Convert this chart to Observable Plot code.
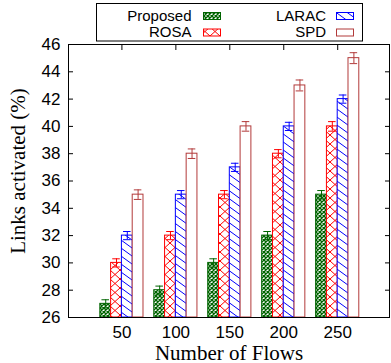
<!DOCTYPE html>
<html><head><meta charset="utf-8">
<script src="https://cdn.jsdelivr.net/npm/d3@7"></script>
<script src="https://cdn.jsdelivr.net/npm/@observablehq/plot@0.6"></script>
<style>
body{margin:0;background:#fff;}
#wrap{position:relative;width:391px;height:363px;overflow:hidden;}
#legend{position:absolute;left:0;top:0;}
</style></head><body><div id="wrap"></div>
<script>
// ---- data ----
const flows = ["50", "100", "150", "200", "250"];
const seriesNames = ["Proposed", "ROSA", "LARAC", "SPD"];
const proposed = [27, 28, 30, 32, 35];
const rosa = [30, 32, 35, 38, 40];
const larac = [32, 35, 37, 40, 42];
const spd = [35, 38, 40, 43, 45];
const errProposed = [0.3, 0.3, 0.3, 0.3, 0.3];
const errRosa = [0.3, 0.3, 0.3, 0.3, 0.35];
const errLarac = [0.3, 0.3, 0.3, 0.3, 0.3];
const errSpd = [0.35, 0.35, 0.35, 0.4, 0.4];
const yTicks = [26, 28, 30, 32, 34, 36, 38, 40, 42, 44, 46];

// ---- styles ----
const colors = ["#006400", "#ff0000", "#0000ff", "#b23a3a"];
const fills = ["url(#pGreen)", "url(#pRed)", "url(#pBlue)", "#ffffff"];
const values = [proposed, rosa, larac, spd];
const errs = [errProposed, errRosa, errLarac, errSpd];
const barW = 0.2;

const wrap = document.getElementById("wrap");

// pattern defs + legend
const NS = "http://www.w3.org/2000/svg";
const leg = document.createElementNS(NS, "svg");
leg.setAttribute("id", "legend");
leg.setAttribute("width", 391);
leg.setAttribute("height", 43);
leg.innerHTML = `
<defs>
 <pattern id="pGreen" patternUnits="userSpaceOnUse" width="4" height="4">
  <rect width="4" height="4" fill="#fff"/>
  <path d="M-1,-1L5,5M5,-1L-1,5" stroke="${colors[0]}" stroke-width="1.4"/>
 </pattern>
 <pattern id="pRed" patternUnits="userSpaceOnUse" width="10" height="9">
  <rect width="10" height="9" fill="#fff"/>
  <path d="M-1,-0.9L11,9.9M11,-0.9L-1,9.9" stroke="${colors[1]}" stroke-width="1"/>
 </pattern>
 <pattern id="pBlue" patternUnits="userSpaceOnUse" width="11" height="8">
  <rect width="11" height="8" fill="#fff"/>
  <path d="M-1,-0.73L12,8.73M-12,-0.73L1,8.73M10,-0.73L23,8.73" stroke="${colors[2]}" stroke-width="1"/>
 </pattern>
</defs>
<rect x="96.5" y="3.5" width="266" height="37.5" fill="#fff" stroke="#000" stroke-width="1"/>
`;
const legPos = [
  {tx: 191.5, ty: 20.5, sx: 203, sy: 12},
  {tx: 191.5, ty: 36.5, sx: 203, sy: 28.5},
  {tx: 326, ty: 20.5, sx: 336, sy: 12},
  {tx: 326, ty: 36.5, sx: 336, sy: 28.5}
];
seriesNames.forEach((name, j) => {
  const p = legPos[j];
  const t = document.createElementNS(NS, "text");
  t.setAttribute("x", p.tx); t.setAttribute("y", p.ty);
  t.setAttribute("text-anchor", "end");
  t.setAttribute("font-family", "Liberation Sans, Arial, sans-serif");
  t.setAttribute("font-size", "15");
  t.textContent = name;
  leg.appendChild(t);
  const r = document.createElementNS(NS, "rect");
  r.setAttribute("x", p.sx + 0.5); r.setAttribute("y", p.sy + 0.5);
  r.setAttribute("width", 17); r.setAttribute("height", 7);
  r.setAttribute("fill", fills[j]); r.setAttribute("stroke", colors[j]);
  leg.appendChild(r);
});

// rows
const rows = [];
values.forEach((arr, j) => arr.forEach((v, i) => {
  const xc = i + (j - 1.5) * barW;
  rows.push({s: j, g: i, v, e: errs[j][i], xc, x1: xc - barW / 2, x2: xc + barW / 2});
}));

const marks = [];
seriesNames.forEach((name, j) => {
  const d = rows.filter(r => r.s === j);
  marks.push(Plot.rect(d, {x1: "x1", x2: "x2", y1: () => 26, y2: "v", fill: fills[j], stroke: colors[j], strokeWidth: 1}));
});
seriesNames.forEach((name, j) => {
  const d = rows.filter(r => r.s === j);
  marks.push(Plot.ruleX(d, {x: "xc", y1: r => r.v - r.e, y2: r => r.v + r.e, stroke: colors[j], strokeWidth: 1}));
  marks.push(Plot.ruleY(d, {y: r => r.v + r.e, x1: r => r.xc - 0.07, x2: r => r.xc + 0.07, stroke: colors[j], strokeWidth: 1}));
  marks.push(Plot.ruleY(d, {y: r => r.v - r.e, x1: r => r.xc - 0.07, x2: r => r.xc + 0.07, stroke: colors[j], strokeWidth: 1}));
});
marks.push(Plot.frame({stroke: "#000", strokeWidth: 1}));
marks.push(Plot.axisY({ticks: yTicks, tickSize: -5, tickPadding: 13, fontSize: 17, label: null, tickFormat: d => String(d)}));
marks.push(Plot.axisY({anchor: "right", ticks: yTicks, tickSize: -5, tickFormat: () => "", label: null}));
marks.push(Plot.axisX({anchor: "top", ticks: [0, 1, 2, 3, 4], tickSize: -5, tickFormat: () => "", label: null}));
marks.push(Plot.axisX({anchor: "bottom", ticks: [0, 1, 2, 3, 4], tickSize: 0, tickPadding: 8, fontSize: 17, tickFormat: i => flows[i], label: null}));
marks.push(Plot.text(["Links activated (%)"], {frameAnchor: "left", textAnchor: "middle", lineAnchor: "middle", dx: -50, dy: -10, rotate: -90, fontFamily: "Liberation Serif, Times New Roman, serif", fontSize: 21, fill: "#000"}));
marks.push(Plot.text(["Number of Flows"], {frameAnchor: "bottom", dy: 42, lineAnchor: "bottom", fontFamily: "Liberation Serif, Times New Roman, serif", fontSize: 21, fill: "#000"}));

const chart = Plot.plot({
  width: 391,
  height: 363,
  marginLeft: 68,
  marginRight: 2,
  marginTop: 44,
  marginBottom: 46,
  x: {domain: [-0.99, 4.96]},
  y: {domain: [26, 46]},
  style: {fontFamily: "Liberation Sans, Arial, sans-serif", fontSize: "17px", background: "#fff", color: "#000"},
  marks
});
wrap.appendChild(chart);
wrap.appendChild(leg);
</script>
</body></html>
